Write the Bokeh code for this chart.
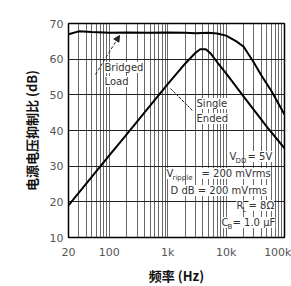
import math
from bokeh.plotting import figure
from bokeh.models import FixedTicker, Label, Arrow, NormalHead
from bokeh.embed import file_html
from bokeh.resources import INLINE

# ---- data ----
bridged_freq = [20, 30, 50, 100, 200, 500, 1000, 2000, 3000, 5000, 7000, 10000, 15000, 20000, 30000, 40000, 60000, 100000]
bridged_db = [67.0, 67.8, 67.6, 67.4, 67.5, 67.4, 67.5, 67.4, 67.3, 67.4, 67.2, 66.6, 65.0, 63.5, 59.0, 55.5, 51.0, 44.5]

single_freq = [20, 50, 100, 200, 500, 1000, 2000, 3000, 3600, 4500, 5500, 7000, 10000, 20000, 50000, 100000]
single_db = [19.0, 27.0, 33.0, 39.0, 47.0, 53.0, 58.8, 61.8, 62.8, 62.8, 61.5, 59.2, 56.0, 49.5, 41.0, 35.0]

x_ticks = [20, 100, 1000, 10000, 100000]
x_tick_labels = ["20", "100", "1k", "10k", "100k"]
y_ticks = [10, 20, 30, 40, 50, 60, 70]

# ---- layout helpers (reference pixel -> data) for annotation placement ----
FL, FR, FT, FB = 68, 284, 23, 237
def hx(px):
    return 20 * 10 ** ((px - FL) / (FR - FL) * math.log10(100000 / 20))
def dy(py):
    return 70 - (py - FT) / (FB - FT) * 60

p = figure(width=291, height=280, x_axis_type="log", x_range=(20, 100000), y_range=(10, 70),
           output_backend="svg", toolbar_location=None,
           min_border_left=68, min_border_right=7, min_border_top=23, min_border_bottom=43,
           frame_width=216, frame_height=214)
p.background_fill_color = "white"
p.outline_line_color = "black"
p.outline_line_width = 1.5

grid_x = []
for d in [10, 100, 1000, 10000]:
    for m in range(1, 10):
        v = m * d
        if 20 <= v <= 100000:
            grid_x.append(v)
grid_x.append(100000)

p.xaxis.ticker = FixedTicker(ticks=x_ticks)
p.xaxis.major_label_overrides = {t: l for t, l in zip(x_ticks, x_tick_labels)}
p.xgrid.ticker = FixedTicker(ticks=grid_x)
p.yaxis.ticker = FixedTicker(ticks=y_ticks)
p.ygrid.ticker = FixedTicker(ticks=y_ticks)
p.xgrid.grid_line_color = "#444444"
p.xgrid.grid_line_alpha = 0.8
p.ygrid.grid_line_color = "#222222"
p.ygrid.grid_line_width = 1.2

for ax in [p.xaxis[0], p.yaxis[0]]:
    ax.axis_line_color = None
    ax.major_tick_line_color = None
    ax.minor_tick_line_color = None
    ax.major_tick_out = 0
    ax.minor_tick_out = 0
    ax.major_label_text_font = "DejaVu Sans"
    ax.major_label_text_font_size = "11px"
    ax.major_label_text_color = "#555555"
    ax.axis_label_text_font = "Noto Sans CJK SC"
    ax.axis_label_text_font_style = "bold"
    ax.axis_label_text_font_size = "13px"
    ax.axis_label_text_color = "#111111"
p.xaxis.major_label_standoff = 8
p.yaxis.major_label_standoff = 5
p.xaxis.axis_label = "频率 (Hz)"
p.yaxis.axis_label = "电源电压抑制比 (dB)"
p.xaxis.axis_label_standoff = 4
p.yaxis.axis_label_standoff = 6

p.line(bridged_freq, bridged_db, line_color="black", line_width=2)
p.line(single_freq, single_db, line_color="black", line_width=2)

TXT = "#333333"
def lab(text, px, py, size="10px", align="left", bg=True):
    l = Label(x=hx(px), y=dy(py), text=text, text_font="DejaVu Sans", text_font_size=size,
              text_color=TXT, text_align=align, text_baseline="middle",
              background_fill_color="white" if bg else None)
    p.add_layout(l)

lab("Bridged", 104, 67)
lab("Load", 104, 81)
p.add_layout(Arrow(x_start=hx(95), y_start=dy(74), x_end=hx(119), y_end=dy(35),
                   line_dash="3 2", line_width=1, line_color="#222222",
                   end=NormalHead(size=6, fill_color="#222222", line_color="#222222")))

lab("Single", 196, 103)
lab("Ended", 196, 118)
p.add_layout(Arrow(x_start=hx(170), y_start=dy(88), x_end=hx(192), y_end=dy(110),
                   line_dash="3 1", line_width=1, line_color="#222222", end=None))

# conditions box
lab("V", 229, 156, "10px")
lab("DD", 235, 160, "7px", bg=False)
lab("= 5V", 247, 156, "10px")
lab("V", 166, 173, "10px")
lab("ripple", 172, 177, "7px", bg=False)
lab("= 200 mVrms", 201, 173, "10px")
lab("D dB = 200 mVrms", 170, 190, "10px")
lab("R", 236, 205, "10px")
lab("L", 242, 209, "7px", bg=False)
lab("= 8Ω", 248, 205, "10px")
lab("C", 221, 222, "10px")
lab("B", 227, 226, "7px", bg=False)
lab("= 1.0 μF", 232, 222, "10px")

open("out.html", "w").write(file_html(p, INLINE))
